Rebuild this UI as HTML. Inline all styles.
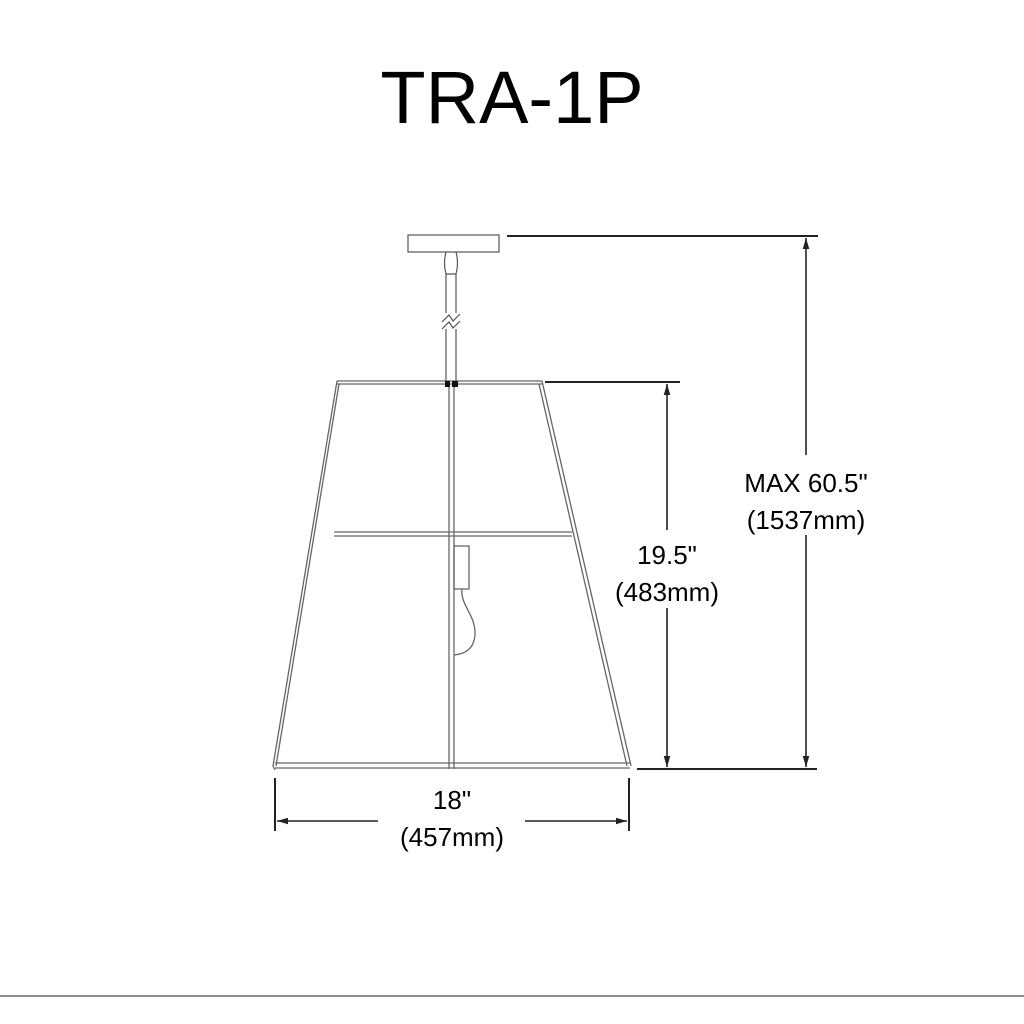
<!DOCTYPE html>
<html><head><meta charset="utf-8"><style>
html,body{margin:0;padding:0;background:#fff;width:1024px;height:1024px;overflow:hidden}
svg{display:block}
text{font-family:"Liberation Sans",Arial,sans-serif;fill:#111}
</style></head><body>
<svg width="1024" height="1024" viewBox="0 0 1024 1024" xmlns="http://www.w3.org/2000/svg">
<defs>
<marker id="a" viewBox="0 0 10 10" refX="10" refY="5" markerWidth="7" markerHeight="7" orient="auto-start-reverse"><path d="M0,2 L10,5 L0,8 z" fill="#222"/></marker>
</defs>
<text x="512" y="123" font-size="74" text-anchor="middle" style="fill:#000">TRA-1P</text>

<g fill="none" stroke="#555" stroke-width="1.2">
<rect x="408" y="235" width="91" height="17"/>
<path d="M446,252 Q443,263 446,274 L456,274 Q459,263 456,252"/>
<line x1="446" y1="274" x2="446" y2="381"/>
<line x1="456" y1="274" x2="456" y2="381"/>
</g>
<rect x="443" y="313" width="16" height="16" fill="#fff" stroke="none"/>
<path d="M442,322 L449,315 L453,321 L460,314 M442,329 L449,322 L453,328 L460,321" fill="none" stroke="#555" stroke-width="1.2"/>

<g fill="none" stroke="#666" stroke-width="1.3">
<line x1="337" y1="381" x2="542" y2="381"/>
<line x1="337" y1="384" x2="542" y2="384"/>
<path d="M337,381 L273,766 L275,770"/>
<path d="M339,384 L276,766"/>
<path d="M542,381 L631,766"/>
<path d="M539,384 L627,766"/>
<line x1="334" y1="532" x2="572" y2="532"/>
<line x1="334" y1="536" x2="572" y2="536"/>
<line x1="275" y1="763" x2="630" y2="763"/>
<line x1="275" y1="768" x2="630" y2="768"/>
<line x1="449" y1="384" x2="449" y2="769"/>
<line x1="454" y1="384" x2="454" y2="769"/>
<rect x="454" y="546" width="15" height="43"/>
<path d="M462,589 C460,605 476,615 475,635 C474,648 466,654 454,655"/>
</g>
<rect x="445" y="381" width="5" height="6" fill="#111"/>
<rect x="452" y="381" width="6" height="6" fill="#111"/>

<g stroke="#222" stroke-width="2" fill="none">
<line x1="507" y1="236" x2="818" y2="236"/>
<line x1="637" y1="769" x2="817" y2="769"/>
<line x1="545" y1="382" x2="680" y2="382"/>
<line x1="275" y1="778" x2="275" y2="831"/>
<line x1="629" y1="778" x2="629" y2="831"/>
</g>
<g stroke="#222" stroke-width="1.6" fill="none">
<line x1="806" y1="238" x2="806" y2="767" marker-start="url(#a)" marker-end="url(#a)"/>
<line x1="667" y1="384" x2="667" y2="767" marker-start="url(#a)" marker-end="url(#a)"/>
<line x1="277" y1="821" x2="378" y2="821" marker-start="url(#a)"/>
<line x1="525" y1="821" x2="627" y2="821" marker-end="url(#a)"/>
</g>
<rect x="725" y="455" width="165" height="80" fill="#fff"/>
<rect x="600" y="530" width="134" height="78" fill="#fff"/>
<text x="806" y="492" font-size="26" text-anchor="middle" style="fill:#000">MAX 60.5"</text>
<text x="806" y="529" font-size="26" text-anchor="middle" style="fill:#000">(1537mm)</text>
<text x="667" y="564" font-size="26" text-anchor="middle" style="fill:#000">19.5"</text>
<text x="667" y="601" font-size="26" text-anchor="middle" style="fill:#000">(483mm)</text>
<text x="452" y="809" font-size="26" text-anchor="middle" style="fill:#000">18"</text>
<text x="452" y="846" font-size="26" text-anchor="middle" style="fill:#000">(457mm)</text>

<line x1="0" y1="996" x2="1024" y2="996" stroke="#666" stroke-width="1.5"/>
</svg>
</body></html>
